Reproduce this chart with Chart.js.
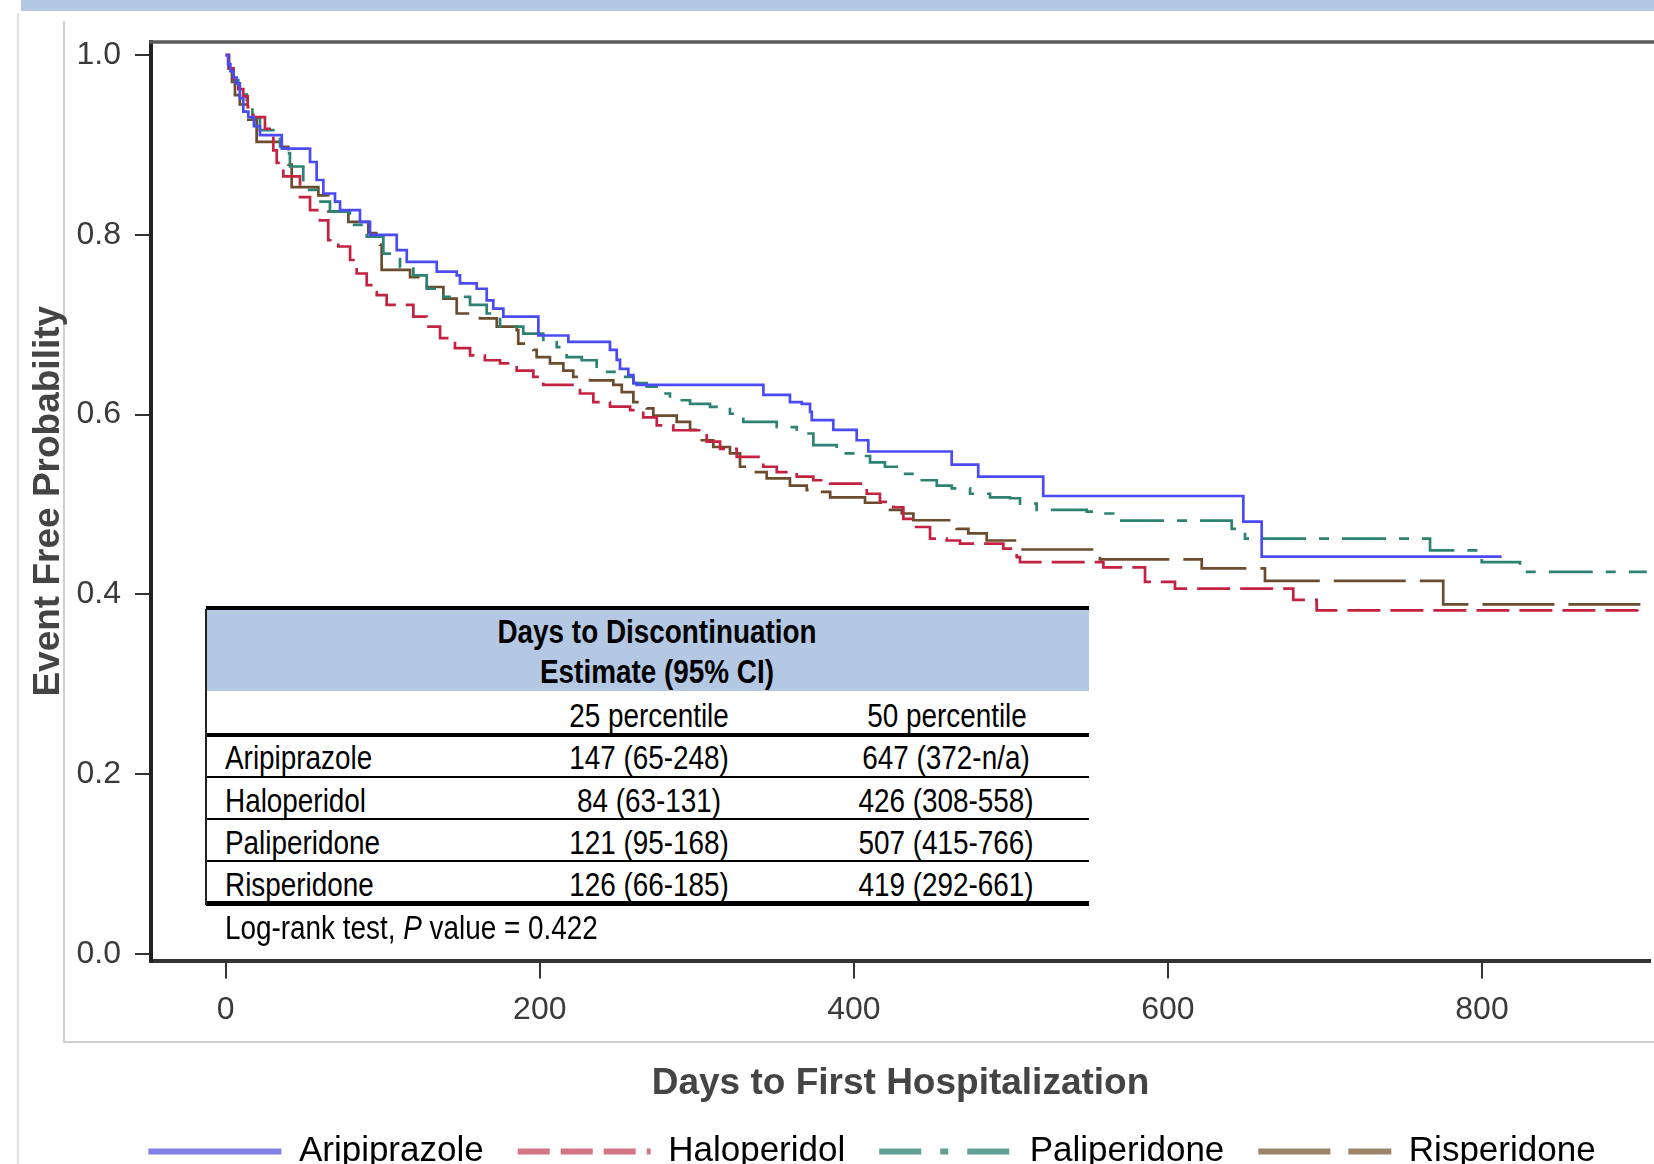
<!DOCTYPE html>
<html lang="en">
<head>
<meta charset="UTF-8" />
<title>Days to First Hospitalization</title>
<style>
  html, body { margin: 0; padding: 0; background: #fff; overflow: hidden; }
  #wrap { position: relative; width: 1654px; height: 1164px; overflow: hidden; background: #fff; }
  .band { position: absolute; left: 21px; top: 0; right: 0; height: 11px; background: #b4c8e4; }
  .vline { position: absolute; left: 17px; top: 13px; bottom: 0; width: 2px; background: #e2e2e2; }
  .box { position: absolute; left: 63px; top: 21px; width: 1700px; height: 1020px;
         border-left: 2px solid #cfcfcf; border-bottom: 2px solid #cfcfcf; }
  canvas { position: absolute; left: 0; top: 0; }
  .rule { position: absolute; background: #000; }
  .t { position: absolute; white-space: nowrap; line-height: 1; color: #000;
       font-family: 'Liberation Sans', Arial, sans-serif; font-size: 34px; }
  .t.c { transform: translate(-50%, -50%) scaleX(0.82); }
  .t.l { transform-origin: left center; transform: translateY(-50%) scaleX(0.82); }
  .t.b { font-weight: bold; }
</style>
</head>
<body>
<div id="wrap">
  <div class="band"></div>
  <div class="vline"></div>
  <div class="box"></div>
  <canvas id="km" width="1744" height="1179"></canvas>
</div>

<script src="https://cdn.jsdelivr.net/npm/chart.js"></script>
<script>
  // Kaplan-Meier curves (days, event free probability)
  const aripDays = [0, 1.5, 3, 5, 7, 9, 11.2, 14.4, 18, 21.8, 35.7, 53.7, 57.9, 62.2, 69.6, 72.8, 85.5, 91.9, 108.9, 115.3, 134.4, 147.1, 149.2, 159.8, 166.2, 170.4, 176.8, 199.1, 218.2, 244.7, 249.0, 251.1, 256.4, 259.6, 261.7, 342.4, 359.3, 366.8, 372.1, 373.2, 386.9, 401.8, 409.2, 462.3, 479.2, 520.6, 648.0, 659.7, 812.5];
  const aripSurv = [1.0, 0.99, 0.982, 0.975, 0.9685, 0.952, 0.937, 0.931, 0.921, 0.911, 0.896, 0.881, 0.861, 0.846, 0.837, 0.8275, 0.8145, 0.800, 0.783, 0.770, 0.759, 0.755, 0.746, 0.740, 0.727, 0.718, 0.709, 0.688, 0.681, 0.672, 0.661, 0.651, 0.644, 0.635, 0.633, 0.622, 0.614, 0.612, 0.603, 0.594, 0.583, 0.5715, 0.559, 0.5445, 0.531, 0.5095, 0.481, 0.442, 0.442];

  const halDays = [0, 2, 5, 8, 11.2, 14, 17.6, 25.0, 30.3, 32.5, 36.7, 47.3, 53.7, 60.0, 65.3, 71.7, 79.2, 83.4, 89.8, 96.2, 102.5, 119.5, 128.0, 136.5, 146, 155.6, 165, 174.7, 185.3, 195.9, 202.2, 225.6, 234.1, 244.7, 257.5, 265.9, 274.5, 285.0, 306.3, 314.8, 325.4, 342.3, 350.9, 363.6, 374.2, 384.9, 408.2, 416.6, 425.1, 431.5, 437.8, 448.5, 459.1, 467.6, 495.2, 503.7, 505.8, 558.9, 585.4, 604.5, 679.8, 694.7, 901.7];
  const halSurv = [1.0, 0.985, 0.972, 0.962, 0.954, 0.942, 0.931, 0.918, 0.894, 0.880, 0.865, 0.842, 0.8275, 0.816, 0.794, 0.787, 0.772, 0.757, 0.744, 0.733, 0.722, 0.709, 0.698, 0.685, 0.674, 0.666, 0.6605, 0.657, 0.649, 0.642, 0.633, 0.6235, 0.614, 0.609, 0.605, 0.597, 0.588, 0.5826, 0.570, 0.562, 0.553, 0.542, 0.536, 0.531, 0.527, 0.5233, 0.512, 0.503, 0.497, 0.484, 0.475, 0.462, 0.460, 0.4565, 0.451, 0.4416, 0.436, 0.430, 0.414, 0.4065, 0.394, 0.3823, 0.3823];

  const palDays = [0, 2, 5, 8, 11, 13.4, 17, 21.8, 30.3, 34.6, 40.9, 49.4, 57.9, 66.4, 79.1, 89.8, 100.4, 111.0, 119.5, 128.0, 138.6, 155.6, 166.2, 174.7, 189.5, 202.2, 210.8, 217.1, 226.7, 236.2, 251.1, 259.6, 268.1, 278.7, 282.9, 295.7, 308.4, 321.1, 329.6, 350.9, 363.6, 374.2, 389.1, 401.8, 410.3, 419.8, 431.5, 442.1, 452.8, 462.3, 474.0, 486.7, 499.4, 505.8, 516.4, 548.3, 556.7, 565.2, 640.6, 649.1, 766.9, 799.8, 824.2, 904.9];
  const palSurv = [1.0, 0.985, 0.972, 0.962, 0.956, 0.950, 0.930, 0.9165, 0.909, 0.891, 0.876, 0.850, 0.837, 0.826, 0.811, 0.798, 0.779, 0.764, 0.755, 0.740, 0.731, 0.722, 0.7125, 0.698, 0.690, 0.683, 0.675, 0.664, 0.6605, 0.6475, 0.642, 0.635, 0.631, 0.6235, 0.616, 0.612, 0.6086, 0.601, 0.592, 0.586, 0.579, 0.566, 0.557, 0.554, 0.547, 0.542, 0.534, 0.527, 0.521, 0.518, 0.512, 0.508, 0.507, 0.501, 0.494, 0.492, 0.490, 0.482, 0.473, 0.462, 0.449, 0.436, 0.425, 0.425];

  const risDays = [0, 2, 4, 5.9, 9, 14.4, 19.7, 35.7, 39.9, 42.0, 59.0, 65.3, 78.1, 90.8, 98.3, 99.3, 117.4, 128.0, 138.6, 147.1, 161.9, 172.6, 185.3, 186.3, 195.9, 198.0, 206.5, 215.0, 221.3, 232.0, 246.8, 252.2, 259.6, 268.1, 272.3, 287.2, 295.7, 302.0, 310.5, 321.1, 327.5, 336.0, 344.5, 359.3, 370.0, 378.5, 384.9, 407.1, 423.0, 430.5, 437.9, 465.5, 472.9, 484.6, 505.8, 556.7, 621.5, 661.8, 775.3, 901.7];
  const risSurv = [1.0, 0.985, 0.97, 0.9555, 0.945, 0.928, 0.9035, 0.898, 0.878, 0.853, 0.844, 0.826, 0.8145, 0.802, 0.789, 0.761, 0.753, 0.742, 0.729, 0.7125, 0.707, 0.698, 0.694, 0.679, 0.672, 0.664, 0.657, 0.649, 0.642, 0.638, 0.633, 0.625, 0.614, 0.607, 0.599, 0.592, 0.583, 0.5715, 0.564, 0.557, 0.542, 0.536, 0.529, 0.521, 0.516, 0.514, 0.508, 0.502, 0.494, 0.490, 0.4825, 0.473, 0.468, 0.460, 0.450, 0.439, 0.429, 0.415, 0.389, 0.389];

  const drugs = ['Aripiprazole', 'Haloperidol', 'Paliperidone', 'Risperidone'];
  const xTicks = [0, 200, 400, 600, 800];
  const yTicks = [0, 0.2, 0.4, 0.6, 0.8, 1.0];

  // inset table
  const pct25 = ['147 (65-248)', '84 (63-131)', '121 (95-168)', '126 (66-185)'];
  const pct50 = ['647 (372-n/a)', '426 (308-558)', '507 (415-766)', '419 (292-661)'];

  // styles
  const lineColors = ['#4b4bf5', '#c32341', '#2d8273', '#6b4c2e'];
  const legendColors = ['#8080e6', '#d27585', '#62a096', '#9c8468'];
  const lineDash = [[], [33, 10], [44, 13, 10, 13], [72, 14]];
  const legendDash = [[], [32, 11], [42, 19, 8, 19], [72, 18]];

  const series = [[aripDays, aripSurv], [halDays, halSurv], [palDays, palSurv], [risDays, risSurv]];

  const frameTop = {
    id: 'frameTop',
    afterDraw(chart) {
      const { ctx, chartArea } = chart;
      ctx.save();
      ctx.strokeStyle = '#5a5a5a';
      ctx.lineWidth = 3.5;
      ctx.beginPath();
      ctx.moveTo(chartArea.left - 2, chartArea.top);
      ctx.lineTo(chart.width, chartArea.top);
      ctx.stroke();
      ctx.restore();
    }
  };

  Chart.defaults.font.family = "'Liberation Sans', Arial, sans-serif";

  new Chart(document.getElementById('km'), {
    type: 'line',
    data: {
      datasets: series.map((s, i) => ({
        label: drugs[i],
        data: s[0].map((d, k) => ({ x: d, y: s[1][k] })),
        stepped: 'before',
        borderColor: lineColors[i],
        borderWidth: 2.7,
        borderDash: lineDash[i],
        borderCapStyle: 'butt',
        pointRadius: 0,
        fill: false
      }))
    },
    options: {
      responsive: false,
      animation: false,
      layout: { padding: { top: 42, left: 0, right: 0, bottom: 0 } },
      plugins: {
        tooltip: { enabled: false },
        legend: {
          position: 'bottom',
          labels: {
            usePointStyle: true,
            pointStyleWidth: 133,
            padding: 34,
            color: '#333',
            font: { size: 35 },
            generateLabels: chart => chart.data.datasets.map((ds, i) => ({
              text: ds.label,
              datasetIndex: i,
              hidden: false,
              pointStyle: 'line',
              strokeStyle: legendColors[i],
              fillStyle: legendColors[i],
              lineWidth: 6,
              lineDash: legendDash[i],
              lineCap: 'butt'
            }))
          }
        }
      },
      scales: {
        x: {
          type: 'linear',
          min: -47.57,
          max: 906.97,
          afterFit: s => { s.height = 139.5; },
          afterBuildTicks: s => { s.ticks = xTicks.map(v => ({ value: v })); },
          ticks: { padding: 12, color: '#3a3a3a', font: { size: 32 }, callback: v => String(v) },
          grid: { drawOnChartArea: false, drawTicks: true, tickLength: 18, color: '#333', lineWidth: 2 },
          border: { display: true, color: '#333', width: 4 },
          title: {
            display: true,
            text: 'Days to First Hospitalization',
            color: '#444',
            font: { size: 37, weight: 'bold', lineHeight: 1 },
            padding: { top: 0, bottom: -2 }
          }
        },
        y: {
          type: 'linear',
          min: -0.0072,
          max: 1.0145,
          afterFit: s => { s.width = 151; },
          afterBuildTicks: s => { s.ticks = yTicks.map(v => ({ value: v })); },
          ticks: { padding: 14, color: '#3a3a3a', font: { size: 32 }, callback: v => v.toFixed(1) },
          grid: { drawOnChartArea: false, drawTicks: true, tickLength: 16, color: '#333', lineWidth: 2 },
          border: { display: true, color: '#222', width: 4 },
          title: {
            display: true,
            text: 'Event Free Probability',
            color: '#444',
            font: { size: 37, weight: 'bold', lineHeight: 1.2 },
            padding: { top: 27, bottom: 0 }
          }
        },
        yR: {
          type: 'linear',
          position: 'right',
          afterFit: s => { s.width = 94; },
          ticks: { display: false },
          grid: { display: false },
          border: { display: false }
        }
      }
    },
    plugins: [frameTop]
  });

  // inset table drawn as html on top of the plot
  const wrap = document.getElementById('wrap');
  function rule(left, top, width, height, color) {
    const d = document.createElement('div');
    d.className = 'rule';
    Object.assign(d.style, { left: left + 'px', top: top + 'px', width: width + 'px', height: height + 'px' });
    if (color) d.style.background = color;
    wrap.appendChild(d);
    return d;
  }
  function text(str, x, y, cls) {
    const d = document.createElement('div');
    d.className = 't ' + cls;
    d.style.left = x + 'px';
    d.style.top = y + 'px';
    d.innerHTML = str;
    wrap.appendChild(d);
    return d;
  }

  const tL = 206, tW = 883;
  rule(tL, 606, tW, 300, '#fff');
  rule(tL, 609, tW, 82, '#b4c8e4');
  rule(tL, 606, tW, 4);
  rule(tL, 733, tW, 4);
  [775.5, 817.5, 859.5].forEach(y => rule(tL, y, tW, 2));
  rule(tL, 901, tW, 5);
  rule(tL - 1, 609, 2, 296, '#222');

  text('Days to Discontinuation', 657, 631, 'c b');
  text('Estimate (95% CI)', 657, 671, 'c b');
  text('25 percentile', 649, 715, 'c');
  text('50 percentile', 947, 715, 'c');
  const rowY = [757, 799.5, 842, 884];
  drugs.forEach((name, i) => {
    text(name, 224.7, rowY[i], 'l');
    text(pct25[i], 649, rowY[i], 'c');
    text(pct50[i], 946, rowY[i], 'c');
  });
  text('Log-rank test, <i>P</i> value = 0.422', 224.7, 927, 'l');
</script>
</body>
</html>
